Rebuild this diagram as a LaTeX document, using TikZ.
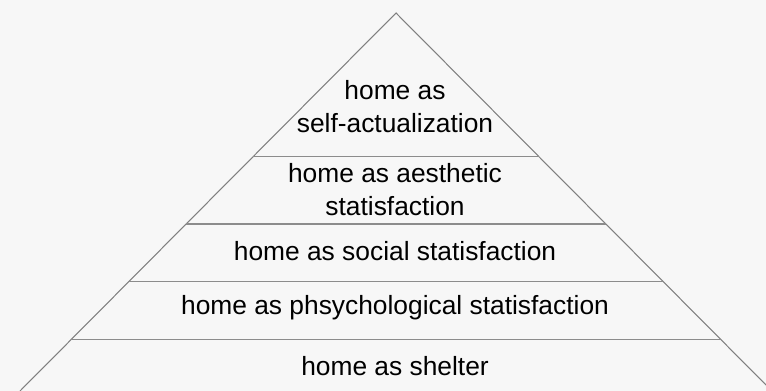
\documentclass[tikz,border=0pt]{standalone}
\usepackage{fontspec}
\setmainfont{Liberation Sans}
\begin{document}
\begin{tikzpicture}[x=0.02cm, y=-0.02cm, line width=0.6pt,
  level/.style={font=\fontsize{15}{18.8}\selectfont, align=center, text=black}]
\useasboundingbox (0,0) rectangle (766,391);
\fill[black!3] (0,0) rectangle (766,391);
\clip (0,0) rectangle (766,391);
\coordinate (T)  at (396,13) ;
\coordinate (L0) at (20 ,391) ;
\coordinate (R0) at (772,391) ;
\coordinate (L1) at (253,156.7) ;
\coordinate (R1) at (539,156.7) ;
\coordinate (L2) at (186,224) ;
\coordinate (R2) at (606,224) ;
\coordinate (L3) at (128.6,281.7) ;
\coordinate (R3) at (663.4,281.7) ;
\coordinate (L4) at (71.3,339.3) ;
\coordinate (R4) at (720.7,339.3) ;
\draw[black!50] (L0) -- (T) -- (R0);
\draw[black!45, line width=0.8pt] (L1) -- (R1) (L2) -- (R2) (L3) -- (R3) (L4) -- (R4);
\node[level] (self)    at (395,107)   {home as\\self-actualization};
\node[level] (aesth)   at (395,190)   {home as aesthetic\\statisfaction};
\node[level] (social)  at (395,251)   {home as social statisfaction};
\node[level] (psych)   at (395,308)   {home as phsychological statisfaction};
\node[level] (shelter) at (395,366.5) {home as shelter};
\end{tikzpicture}
\end{document}
